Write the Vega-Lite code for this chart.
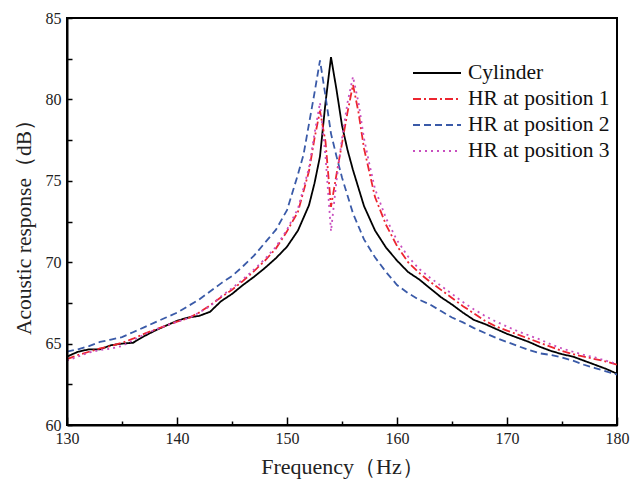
{
  "$schema": "https://vega.github.io/schema/vega-lite/v6.json",
  "autosize": "none",
  "width": 550,
  "height": 407,
  "padding": {"left": 67, "top": 18, "right": 23, "bottom": 57},
  "background": "white",
  "config": {
    "view": {"stroke": "black", "strokeWidth": 2},
    "font": "Liberation Serif",
    "axis": {"ticks": true, "tickColor": "black", "tickWidth": 1.5, "tickOpacity": 1}
  },
  "data": {
    "values": [
      {"s":"Cylinder","f":130,"v":64.2},{"s":"Cylinder","f":131,"v":64.5},{"s":"Cylinder","f":132,"v":64.65},{"s":"Cylinder","f":133,"v":64.65},{"s":"Cylinder","f":134,"v":64.9},{"s":"Cylinder","f":135,"v":65.0},{"s":"Cylinder","f":136,"v":65.05},{"s":"Cylinder","f":137,"v":65.45},{"s":"Cylinder","f":138,"v":65.8},{"s":"Cylinder","f":139,"v":66.1},{"s":"Cylinder","f":140,"v":66.4},{"s":"Cylinder","f":141,"v":66.6},{"s":"Cylinder","f":142,"v":66.7},{"s":"Cylinder","f":143,"v":66.95},{"s":"Cylinder","f":144,"v":67.6},{"s":"Cylinder","f":145,"v":68.05},{"s":"Cylinder","f":146,"v":68.6},{"s":"Cylinder","f":147,"v":69.1},{"s":"Cylinder","f":148,"v":69.65},{"s":"Cylinder","f":149,"v":70.25},{"s":"Cylinder","f":150,"v":70.95},{"s":"Cylinder","f":151,"v":71.95},{"s":"Cylinder","f":152,"v":73.5},{"s":"Cylinder","f":152.5,"v":74.85},{"s":"Cylinder","f":153,"v":76.5},{"s":"Cylinder","f":153.5,"v":79.8},{"s":"Cylinder","f":154,"v":82.6},{"s":"Cylinder","f":154.5,"v":80.6},{"s":"Cylinder","f":155,"v":78.4},{"s":"Cylinder","f":155.5,"v":76.9},{"s":"Cylinder","f":156,"v":75.66},{"s":"Cylinder","f":157,"v":73.45},{"s":"Cylinder","f":158,"v":71.95},{"s":"Cylinder","f":159,"v":70.9},{"s":"Cylinder","f":160,"v":70.1},{"s":"Cylinder","f":161,"v":69.4},{"s":"Cylinder","f":162,"v":68.95},{"s":"Cylinder","f":163,"v":68.4},{"s":"Cylinder","f":164,"v":67.85},{"s":"Cylinder","f":165,"v":67.4},{"s":"Cylinder","f":166,"v":66.9},{"s":"Cylinder","f":167,"v":66.45},{"s":"Cylinder","f":168,"v":66.2},{"s":"Cylinder","f":169,"v":65.9},{"s":"Cylinder","f":170,"v":65.6},{"s":"Cylinder","f":171,"v":65.35},{"s":"Cylinder","f":172,"v":65.1},{"s":"Cylinder","f":173,"v":64.8},{"s":"Cylinder","f":174,"v":64.55},{"s":"Cylinder","f":175,"v":64.35},{"s":"Cylinder","f":176,"v":64.2},{"s":"Cylinder","f":177,"v":63.95},{"s":"Cylinder","f":178,"v":63.7},{"s":"Cylinder","f":179,"v":63.45},{"s":"Cylinder","f":180,"v":63.15},

      {"s":"HR at position 1","f":130,"v":64.05},{"s":"HR at position 1","f":131,"v":64.3},{"s":"HR at position 1","f":132,"v":64.5},{"s":"HR at position 1","f":133,"v":64.7},{"s":"HR at position 1","f":134,"v":64.85},{"s":"HR at position 1","f":135,"v":65.05},{"s":"HR at position 1","f":136,"v":65.3},{"s":"HR at position 1","f":137,"v":65.6},{"s":"HR at position 1","f":138,"v":65.85},{"s":"HR at position 1","f":139,"v":66.1},{"s":"HR at position 1","f":140,"v":66.35},{"s":"HR at position 1","f":141,"v":66.55},{"s":"HR at position 1","f":142,"v":66.9},{"s":"HR at position 1","f":143,"v":67.35},{"s":"HR at position 1","f":144,"v":67.85},{"s":"HR at position 1","f":145,"v":68.3},{"s":"HR at position 1","f":146,"v":68.85},{"s":"HR at position 1","f":147,"v":69.45},{"s":"HR at position 1","f":148,"v":70.1},{"s":"HR at position 1","f":149,"v":70.85},{"s":"HR at position 1","f":150,"v":71.9},{"s":"HR at position 1","f":151,"v":73.1},{"s":"HR at position 1","f":152,"v":75.6},{"s":"HR at position 1","f":152.5,"v":77.6},{"s":"HR at position 1","f":153,"v":79.3},{"s":"HR at position 1","f":153.5,"v":77.4},{"s":"HR at position 1","f":154,"v":73.4},{"s":"HR at position 1","f":154.5,"v":75.4},{"s":"HR at position 1","f":155,"v":77.3},{"s":"HR at position 1","f":155.5,"v":79.2},{"s":"HR at position 1","f":156,"v":80.9},{"s":"HR at position 1","f":156.5,"v":79.2},{"s":"HR at position 1","f":157,"v":77.0},{"s":"HR at position 1","f":157.5,"v":75.5},{"s":"HR at position 1","f":158,"v":74.0},{"s":"HR at position 1","f":159,"v":72.3},{"s":"HR at position 1","f":160,"v":71.0},{"s":"HR at position 1","f":161,"v":70.0},{"s":"HR at position 1","f":162,"v":69.35},{"s":"HR at position 1","f":163,"v":68.8},{"s":"HR at position 1","f":164,"v":68.3},{"s":"HR at position 1","f":165,"v":67.8},{"s":"HR at position 1","f":166,"v":67.3},{"s":"HR at position 1","f":167,"v":66.85},{"s":"HR at position 1","f":168,"v":66.4},{"s":"HR at position 1","f":169,"v":66.05},{"s":"HR at position 1","f":170,"v":65.8},{"s":"HR at position 1","f":171,"v":65.55},{"s":"HR at position 1","f":172,"v":65.3},{"s":"HR at position 1","f":173,"v":65.05},{"s":"HR at position 1","f":174,"v":64.8},{"s":"HR at position 1","f":175,"v":64.55},{"s":"HR at position 1","f":176,"v":64.35},{"s":"HR at position 1","f":177,"v":64.2},{"s":"HR at position 1","f":178,"v":64.05},{"s":"HR at position 1","f":179,"v":63.9},{"s":"HR at position 1","f":180,"v":63.7},

      {"s":"HR at position 2","f":130,"v":64.5},{"s":"HR at position 2","f":131,"v":64.65},{"s":"HR at position 2","f":132,"v":64.85},{"s":"HR at position 2","f":133,"v":65.1},{"s":"HR at position 2","f":134,"v":65.25},{"s":"HR at position 2","f":135,"v":65.4},{"s":"HR at position 2","f":136,"v":65.7},{"s":"HR at position 2","f":137,"v":66.0},{"s":"HR at position 2","f":138,"v":66.3},{"s":"HR at position 2","f":139,"v":66.6},{"s":"HR at position 2","f":140,"v":66.9},{"s":"HR at position 2","f":141,"v":67.3},{"s":"HR at position 2","f":142,"v":67.7},{"s":"HR at position 2","f":143,"v":68.2},{"s":"HR at position 2","f":144,"v":68.7},{"s":"HR at position 2","f":145,"v":69.15},{"s":"HR at position 2","f":146,"v":69.75},{"s":"HR at position 2","f":147,"v":70.4},{"s":"HR at position 2","f":148,"v":71.2},{"s":"HR at position 2","f":149,"v":72.0},{"s":"HR at position 2","f":150,"v":73.2},{"s":"HR at position 2","f":151,"v":75.4},{"s":"HR at position 2","f":151.5,"v":76.6},{"s":"HR at position 2","f":152,"v":78.5},{"s":"HR at position 2","f":152.5,"v":80.4},{"s":"HR at position 2","f":153,"v":82.4},{"s":"HR at position 2","f":153.5,"v":80.2},{"s":"HR at position 2","f":154,"v":77.9},{"s":"HR at position 2","f":154.5,"v":76.5},{"s":"HR at position 2","f":155,"v":75.2},{"s":"HR at position 2","f":156,"v":73.0},{"s":"HR at position 2","f":157,"v":71.4},{"s":"HR at position 2","f":158,"v":70.3},{"s":"HR at position 2","f":159,"v":69.4},{"s":"HR at position 2","f":160,"v":68.6},{"s":"HR at position 2","f":161,"v":68.1},{"s":"HR at position 2","f":162,"v":67.7},{"s":"HR at position 2","f":163,"v":67.4},{"s":"HR at position 2","f":164,"v":67.0},{"s":"HR at position 2","f":165,"v":66.6},{"s":"HR at position 2","f":166,"v":66.3},{"s":"HR at position 2","f":167,"v":65.95},{"s":"HR at position 2","f":168,"v":65.65},{"s":"HR at position 2","f":169,"v":65.35},{"s":"HR at position 2","f":170,"v":65.1},{"s":"HR at position 2","f":171,"v":64.85},{"s":"HR at position 2","f":172,"v":64.6},{"s":"HR at position 2","f":173,"v":64.4},{"s":"HR at position 2","f":174,"v":64.3},{"s":"HR at position 2","f":175,"v":64.15},{"s":"HR at position 2","f":176,"v":63.95},{"s":"HR at position 2","f":177,"v":63.7},{"s":"HR at position 2","f":178,"v":63.5},{"s":"HR at position 2","f":179,"v":63.3},{"s":"HR at position 2","f":180,"v":63.1},

      {"s":"HR at position 3","f":130,"v":63.95},{"s":"HR at position 3","f":131,"v":64.2},{"s":"HR at position 3","f":132,"v":64.45},{"s":"HR at position 3","f":133,"v":64.6},{"s":"HR at position 3","f":134,"v":64.7},{"s":"HR at position 3","f":135,"v":64.85},{"s":"HR at position 3","f":136,"v":65.2},{"s":"HR at position 3","f":137,"v":65.55},{"s":"HR at position 3","f":138,"v":65.85},{"s":"HR at position 3","f":139,"v":66.1},{"s":"HR at position 3","f":140,"v":66.35},{"s":"HR at position 3","f":141,"v":66.55},{"s":"HR at position 3","f":142,"v":66.9},{"s":"HR at position 3","f":143,"v":67.3},{"s":"HR at position 3","f":144,"v":67.9},{"s":"HR at position 3","f":145,"v":68.4},{"s":"HR at position 3","f":146,"v":68.95},{"s":"HR at position 3","f":147,"v":69.55},{"s":"HR at position 3","f":148,"v":70.2},{"s":"HR at position 3","f":149,"v":70.95},{"s":"HR at position 3","f":150,"v":72.0},{"s":"HR at position 3","f":151,"v":73.3},{"s":"HR at position 3","f":152,"v":75.8},{"s":"HR at position 3","f":152.5,"v":77.9},{"s":"HR at position 3","f":153,"v":79.8},{"s":"HR at position 3","f":153.5,"v":76.5},{"s":"HR at position 3","f":154,"v":71.9},{"s":"HR at position 3","f":154.5,"v":75.0},{"s":"HR at position 3","f":155,"v":77.6},{"s":"HR at position 3","f":155.5,"v":79.8},{"s":"HR at position 3","f":156,"v":81.4},{"s":"HR at position 3","f":156.5,"v":79.8},{"s":"HR at position 3","f":157,"v":77.6},{"s":"HR at position 3","f":157.5,"v":76.0},{"s":"HR at position 3","f":158,"v":74.5},{"s":"HR at position 3","f":159,"v":72.7},{"s":"HR at position 3","f":160,"v":71.35},{"s":"HR at position 3","f":161,"v":70.35},{"s":"HR at position 3","f":162,"v":69.6},{"s":"HR at position 3","f":163,"v":69.05},{"s":"HR at position 3","f":164,"v":68.55},{"s":"HR at position 3","f":165,"v":68.05},{"s":"HR at position 3","f":166,"v":67.55},{"s":"HR at position 3","f":167,"v":67.1},{"s":"HR at position 3","f":168,"v":66.7},{"s":"HR at position 3","f":169,"v":66.35},{"s":"HR at position 3","f":170,"v":66.05},{"s":"HR at position 3","f":171,"v":65.75},{"s":"HR at position 3","f":172,"v":65.5},{"s":"HR at position 3","f":173,"v":65.25},{"s":"HR at position 3","f":174,"v":64.95},{"s":"HR at position 3","f":175,"v":64.7},{"s":"HR at position 3","f":176,"v":64.5},{"s":"HR at position 3","f":177,"v":64.3},{"s":"HR at position 3","f":178,"v":64.15},{"s":"HR at position 3","f":179,"v":63.95},{"s":"HR at position 3","f":180,"v":63.75}
    ]
  },
  "resolve": {"axis": {"x": "independent"}},
  "layer": [
    {
      "mark": {"type": "point", "opacity": 0},
      "encoding": {
        "x": {
          "field": "f", "type": "quantitative",
          "scale": {"domain": [130, 180], "nice": false, "zero": false},
          "axis": {
            "orient": "bottom",
            "values": [135,145,155,165,175],
            "labels": false, "title": null, "domain": false, "grid": false,
            "tickSize": -4, "zindex": 1
          }
        }
      }
    },
    {
      "mark": {"type": "line", "strokeWidth": 1.8, "clip": true},
      "encoding": {
        "x": {
          "field": "f", "type": "quantitative",
          "scale": {"domain": [130, 180], "nice": false, "zero": false},
          "axis": {
            "orient": "bottom",
            "title": "Frequency（Hz）",
            "values": [130,140,150,160,170,180],
            "grid": false, "zindex": 1,
            "domainColor": "black", "domainWidth": 2,
            "tickSize": -8,
            "labelFont": "Liberation Serif", "labelFontSize": 16, "labelColor": "#222",
            "labelPadding": 13, "labelFlush": false,
            "titleFont": "Liberation Serif", "titleFontSize": 22, "titleFontWeight": "normal", "titleColor": "#222",
            "titlePadding": 10
          }
        },
        "y": {
          "field": "v", "type": "quantitative",
          "scale": {"domain": [60, 85], "nice": false, "zero": false},
          "axis": {
            "title": "Acoustic response（dB）",
            "values": [60,62.5,65,67.5,70,72.5,75,77.5,80,82.5,85],
            "labelExpr": "datum.value % 5 === 0 ? datum.label : ''",
            "grid": false, "zindex": 1,
            "domainColor": "black", "domainWidth": 2,
            "tickSize": -5,
            "labelFont": "Liberation Serif", "labelFontSize": 16, "labelColor": "#222",
            "labelPadding": 11,
            "titleFont": "Liberation Serif", "titleFontSize": 21.5, "titleFontWeight": "normal", "titleColor": "#222",
            "titlePadding": 10
          }
        },
        "color": {
          "field": "s", "type": "nominal",
          "scale": {
            "domain": ["Cylinder", "HR at position 1", "HR at position 2", "HR at position 3"],
            "range": ["#000000", "#ec2530", "#3a5aa8", "#c84fbf"]
          },
          "legend": {
            "title": null, "orient": "none", "legendX": 357, "legendY": 42,
            "symbolType": "M-2,0H2", "symbolSize": 576, "symbolStrokeWidth": 2,
            "labelFont": "Liberation Serif", "labelFontSize": 21.5, "labelColor": "#111",
            "rowPadding": 2, "labelOffset": 18, "padding": 0
          }
        },
        "strokeDash": {
          "field": "s", "type": "nominal",
          "scale": {
            "domain": ["Cylinder", "HR at position 1", "HR at position 2", "HR at position 3"],
            "range": [[1,0],[8,3,2,3],[7,4],[2,4]]
          },
          "legend": {
            "title": null, "orient": "none", "legendX": 357, "legendY": 42,
            "symbolType": "M-2,0H2", "symbolSize": 576, "symbolStrokeWidth": 2,
            "labelFont": "Liberation Serif", "labelFontSize": 21.5, "labelColor": "#111",
            "rowPadding": 2, "labelOffset": 18, "padding": 0
          }
        }
      }
    }
  ]
}
